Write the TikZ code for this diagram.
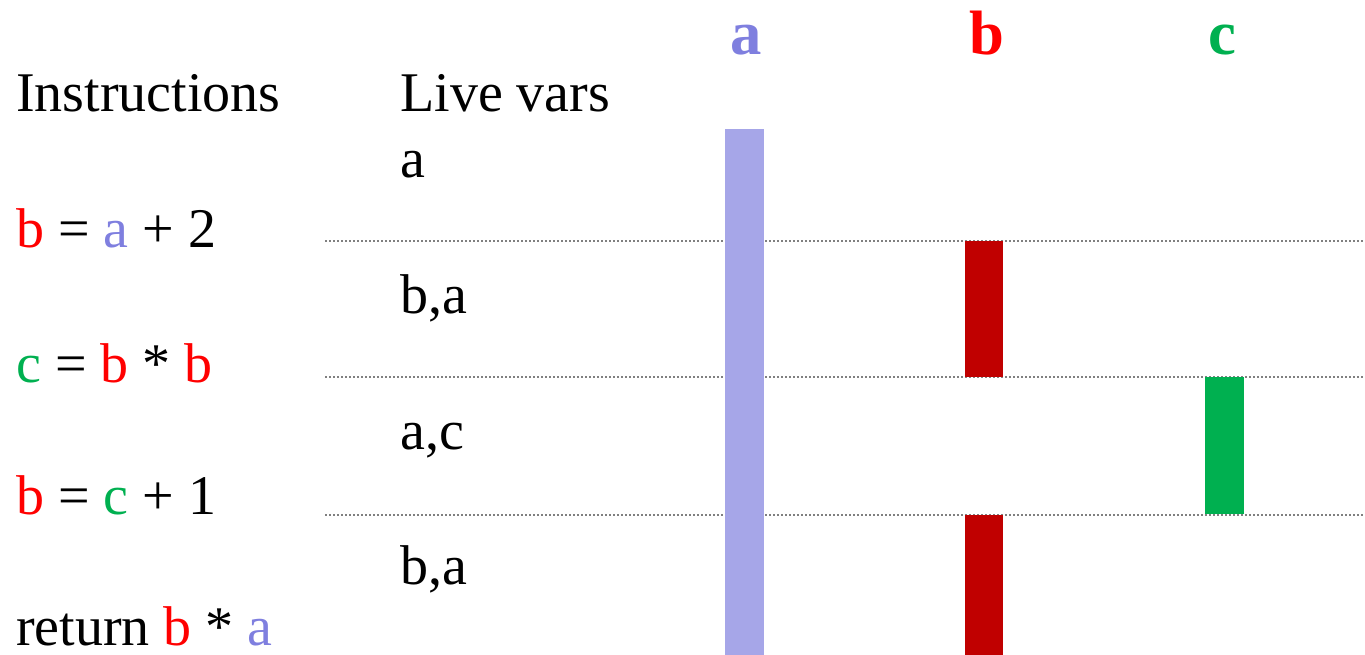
\documentclass[tikz,border=0pt]{standalone}
\usepackage{fontspec}
\setmainfont{Liberation Serif}
\usetikzlibrary{positioning}
\definecolor{avar}{HTML}{7F7FDF}
\definecolor{abar}{HTML}{A6A6E8}
\definecolor{bvar}{HTML}{FF0000}
\definecolor{bbar}{HTML}{C00000}
\definecolor{cvar}{HTML}{00B050}

\begin{document}
\begin{tikzpicture}[x=0.75pt, y=-0.75pt,
    txt/.style={anchor=base west, inner sep=0pt, font=\fontsize{42}{50}\selectfont},
    hdr/.style={anchor=base, inner sep=0pt, font=\fontsize{47}{56}\selectfont\bfseries},
    sep/.style={draw=gray, line width=1.5pt, dash pattern=on 1.5pt off 1.5pt}]
\useasboundingbox (0,0) rectangle (1365,655);
% dotted separators between instructions
\foreach \y in {241, 377, 515}
  \draw[sep] (325,\y) -- (1363,\y);
% live ranges
\fill[abar] (725,129) rectangle (764,655);
\fill[bbar] (965,241) rectangle (1003,377);
\fill[bbar] (965,515) rectangle (1003,655);
\fill[cvar] (1205,377) rectangle (1244,514);
% column heads
\node[hdr, text=avar] (ha) at (746,55) {a};
\node[hdr, text=bvar] (hb) at (987,55) {b};
\node[hdr, text=cvar] (hc) at (1222,55) {c};
% instructions
\node[txt] (instr) at (16,112) {Instructions};
\node[txt] (i1) at (16,248) {{\color{bvar}b} = {\color{avar}a} + 2};
\node[txt] (i2) at (16,383) {{\color{cvar}c} = {\color{bvar}b} * {\color{bvar}b}};
\node[txt] (i3) at (16,515) {{\color{bvar}b} = {\color{cvar}c} + 1};
\node[txt] (i4) at (16,646) {return {\color{bvar}b} * {\color{avar}a}};
% live variables
\node[txt] (live) at (400,112) {Live vars};
\node[txt] (l0) at (400,178) {a};
\node[txt] (l1) at (400,314) {b,a};
\node[txt] (l2) at (400,450) {a,c};
\node[txt] (l3) at (400,585) {b,a};
\end{tikzpicture}
\end{document}
